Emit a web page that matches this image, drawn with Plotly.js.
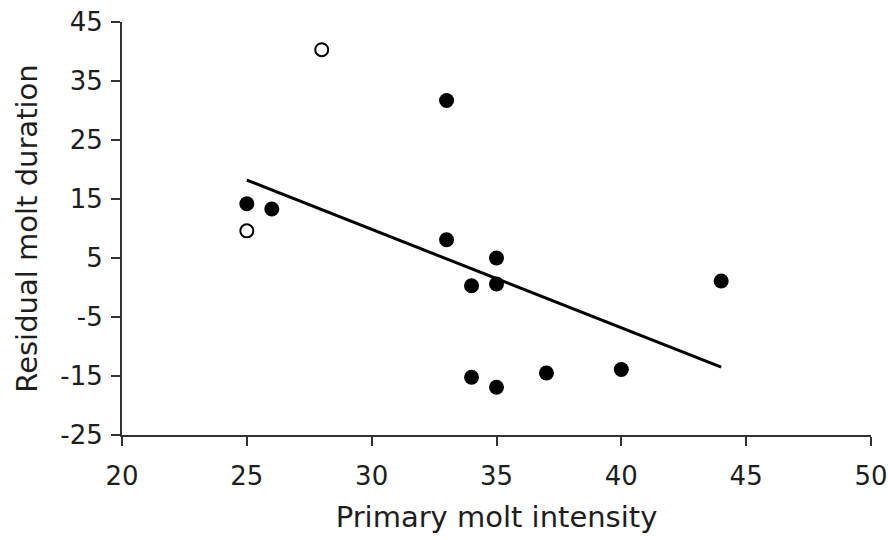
<!DOCTYPE html>
<html>
<head>
<meta charset="utf-8">
<script src="https://cdn.plot.ly/plotly-3.0.1.min.js"></script>
<style>html,body{margin:0;padding:0;background:#fff;}#chart{width:888px;height:540px;}</style>
</head>
<body>
<div id="chart"></div>
<script>
const filledX = [25, 26, 33, 33, 34, 35, 35, 34, 35, 37, 40, 44];
const filledY = [14.2, 13.3, 31.7, 8.1, 0.3, 5.0, 0.6, -15.2, -16.9, -14.5, -13.9, 1.1];
const openX = [28, 25];
const openY = [40.3, 9.6];
const trendX = [25, 44];
const trendY = [18.2, -13.5];
const xTicks = [20, 25, 30, 35, 40, 45, 50];
const yTicks = [-25, -15, -5, 5, 15, 25, 35, 45];

const traces = [
  {x: trendX, y: trendY, mode: 'lines', line: {color: '#000', width: 3}, hoverinfo: 'skip'},
  {x: filledX, y: filledY, mode: 'markers', marker: {color: '#000', size: 15}},
  {x: openX, y: openY, mode: 'markers', marker: {color: '#fff', size: 13, line: {color: '#000', width: 2}}}
];
const fam = 'DejaVu Sans, Verdana, sans-serif';
const axFont = {family: fam, size: 26, color: '#1e1e1e'};
const titleFont = {family: fam, size: 29, color: '#1e1e1e'};
const layout = {
  width: 888, height: 540,
  margin: {l: 122, r: 17, t: 22, b: 105},
  showlegend: false,
  paper_bgcolor: '#fff', plot_bgcolor: '#fff',
  xaxis: {
    range: [20, 50], tickvals: xTicks, ticktext: xTicks.map(String),
    showgrid: false, zeroline: false, showline: true, linecolor: '#333', linewidth: 2,
    ticks: 'outside', ticklen: 9, tickwidth: 2, tickcolor: '#333',
    tickfont: axFont, ticklabelstandoff: 8,
    title: {text: 'Primary molt intensity', font: titleFont, standoff: 16}
  },
  yaxis: {
    range: [-25, 45], tickvals: yTicks, ticktext: yTicks.map(String),
    showgrid: false, zeroline: false, showline: true, linecolor: '#333', linewidth: 2,
    ticks: 'outside', ticklen: 9, tickwidth: 2, tickcolor: '#333',
    tickfont: axFont, ticklabelstandoff: 3,
    title: {text: 'Residual molt duration', font: titleFont, standoff: 14}
  }
};
Plotly.newPlot('chart', traces, layout, {displayModeBar: false, staticPlot: true});
</script>
</body>
</html>
